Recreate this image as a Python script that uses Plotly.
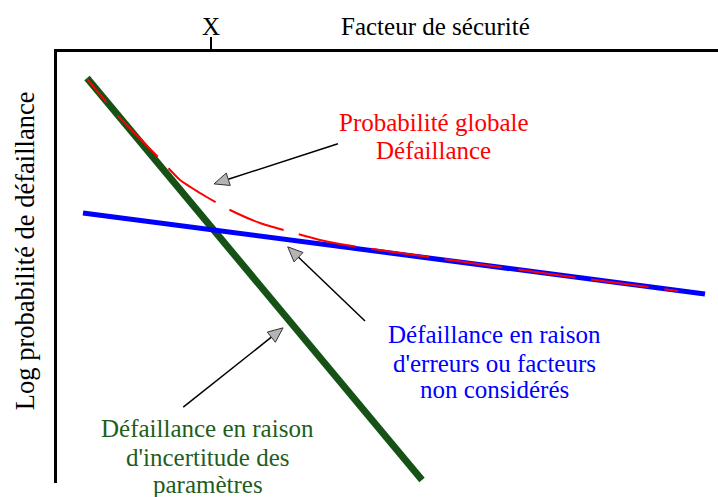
import math
import plotly.graph_objects as go

# ---- data (arbitrary units: x = safety factor, y = log probability of failure) ----
green_x = [4.54, 55.22]
green_y = [93.97, 0.70]

blue_x = [3.93, 98.03]
blue_y = [62.65, 43.85]

red_x = [4.54, 9.53, 15.28, 18.61, 21.63, 24.21, 26.17, 30.71, 34.80, 39.79,
         42.81, 51.89, 59.46, 74.58, 93.95]
red_y = [93.74, 84.69, 75.64, 70.30, 67.29, 64.97, 63.34, 60.32, 58.47, 56.38,
         55.45, 53.36, 51.74, 48.49, 44.55]

x_tick_vals = [23.3]
x_tick_text = ["X"]

# arrows: tail -> tip
arrow_tail_x = [42.5, 46.6, 19.1]
arrow_tail_y = [78.7, 37.6, 17.6]
arrow_tip_x = [23.75, 34.9, 34.2]
arrow_tip_y = [69.4, 54.8, 36.0]

# ---- layout geometry ----
W, H = 718, 497
ML, MR, MT, MB = 57, 0, 52, 14
XR = [0, 100]
YR = [0, 100]
pxx = (W - ML - MR) / (XR[1] - XR[0])
pxy = (H - MT - MB) / (YR[1] - YR[0])

FONT = "Liberation Serif, Times New Roman, serif"
FS = 25
GREEN = "#165216"
GREEN_TXT = "#1d5e1d"
BLUE = "#0000ff"
RED = "#ff0000"

# dash pattern: partial first dash then regular 58/16 px
dash_parts = ["30px", "17px"] + ["58px", "16px"] * 12
RED_DASH = ",".join(dash_parts)

fig = go.Figure()
fig.add_trace(go.Scatter(x=green_x, y=green_y, mode="lines",
                         line=dict(color=GREEN, width=7), hoverinfo="skip"))
fig.add_trace(go.Scatter(x=blue_x, y=blue_y, mode="lines",
                         line=dict(color=BLUE, width=5), hoverinfo="skip"))
fig.add_trace(go.Scatter(x=red_x, y=red_y, mode="lines",
                         line=dict(color=RED, width=2, dash=RED_DASH,
                                   shape="spline", smoothing=0.5),
                         hoverinfo="skip"))

shapes = []
for tx, ty, hx, hy in zip(arrow_tail_x, arrow_tail_y, arrow_tip_x, arrow_tip_y):
    dx = (hx - tx) * pxx
    dy = (hy - ty) * pxy
    L = math.hypot(dx, dy)
    ux, uy = dx / L, dy / L
    hl, hw = 15, 6.5
    bx, by = -ux * hl, -uy * hl
    p1 = (hx + (bx - uy * hw) / pxx, hy + (by + ux * hw) / pxy)
    p2 = (hx + (bx + uy * hw) / pxx, hy + (by - ux * hw) / pxy)
    bmx, bmy = hx + bx / pxx, hy + by / pxy
    shapes.append(dict(type="line", xref="x", yref="y", x0=tx, y0=ty, x1=bmx, y1=bmy,
                       line=dict(color="black", width=1.5)))
    shapes.append(dict(type="path", xref="x", yref="y",
                       path=f"M {hx} {hy} L {p1[0]} {p1[1]} L {p2[0]} {p2[1]} Z",
                       fillcolor="#b4b4b4", line=dict(color="#333333", width=1)))

annotations = []
def txt(t, x, y, color, angle=0, size=FS):
    # positions given in axis units; converted to paper fractions
    annotations.append(dict(text=t, x=(x - XR[0]) / (XR[1] - XR[0]),
                            y=(y - YR[0]) / (YR[1] - YR[0]),
                            xref="paper", yref="paper", showarrow=False,
                            xanchor="center", yanchor="middle", textangle=angle,
                            font=dict(family=FONT, size=size, color=color)))

txt("Probabilité globale", 57.03, 83.53, RED)
txt("Défaillance", 57.03, 77.26, RED)
txt("Défaillance en raison", 66.26, 34.34, BLUE)
txt("d'erreurs ou facteurs", 66.26, 27.84, BLUE)
txt("non considérés", 66.26, 21.58, BLUE)
txt("Défaillance en raison", 22.77, 12.6, GREEN_TXT)
txt("d'incertitude des", 22.77, 6.0, GREEN_TXT)
txt("paramètres", 22.77, -0.4, GREEN_TXT)
txt("Facteur de sécurité", 57.19, 106.0, "black")
txt(x_tick_text[0], x_tick_vals[0], 106.0, "black")
txt("Log probabilité de défaillance", -4.84, 53.8, "black", angle=-90, size=26.5)

fig.update_layout(
    width=W, height=H,
    margin=dict(l=ML, r=MR, t=MT, b=MB, pad=0),
    paper_bgcolor="white", plot_bgcolor="white",
    showlegend=False,
    shapes=shapes, annotations=annotations,
    xaxis=dict(range=XR, side="top", showline=True, linecolor="black", linewidth=3,
               showgrid=False, zeroline=False, tickvals=x_tick_vals, ticktext=x_tick_text,
               showticklabels=False,
               ticks="outside", ticklen=12, tickwidth=2, tickcolor="black",
               fixedrange=True, automargin=False),
    yaxis=dict(range=YR, showline=True, linecolor="black", linewidth=3,
               showgrid=False, zeroline=False, showticklabels=False, ticks="",
               fixedrange=True, automargin=False),
)

fig.write_html("out.html", config={"displayModeBar": False},
               post_script="document.body.style.margin='0';document.body.style.overflow='hidden';")
